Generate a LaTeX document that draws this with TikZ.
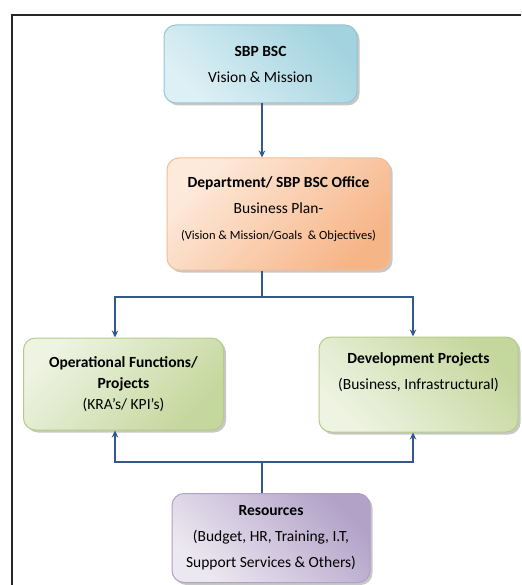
\documentclass[tikz,border=0pt]{standalone}
\usepackage{fontspec}
\setmainfont{Carlito}
\usepackage{tikz}
\usetikzlibrary{arrows.meta,positioning,shadows}

\definecolor{linkblue}{HTML}{35588A}
\definecolor{skyA}{HTML}{DDF0F5}
\definecolor{skyB}{HTML}{A3D3DF}
\definecolor{skyE}{HTML}{93C6D2}
\definecolor{peachA}{HTML}{FDEADB}
\definecolor{peachB}{HTML}{F6B587}
\definecolor{peachE}{HTML}{F0BE98}
\definecolor{leafA}{HTML}{EEF3E2}
\definecolor{leafB}{HTML}{C4D79C}
\definecolor{leafE}{HTML}{B5CB88}
\definecolor{plumA}{HTML}{ECE8F1}
\definecolor{plumB}{HTML}{B2A2C8}
\definecolor{plumE}{HTML}{B0A0C5}

\begin{document}
\begin{tikzpicture}[x=1pt, y=-1pt, >={Stealth[length=7pt,width=6.5pt]},
  every node/.style={font=\fontsize{15.5}{18}\selectfont},
  box/.style={rounded corners=12pt, align=center, line width=1pt, inner sep=0pt,
    drop shadow={shadow xshift=2.5pt, shadow yshift=-2.5pt, fill=black, opacity=0.22}},
  link/.style={->, draw=linkblue, line width=1.4pt}]
  \useasboundingbox (0,0) rectangle (521,585);
  \draw[line width=2.5pt, black!85] (12,585) -- (12,15) -- (521,15);

  \node[box, draw=skyE, top color=skyB, bottom color=skyA, shading angle=-45,
    minimum width=193pt, minimum height=78pt] (vision) at (260.5,64)
    {\textbf{SBP BSC}\\[8pt]Vision \& Mission};
  \node[box, draw=peachE, top color=peachA, bottom color=peachB, shading angle=45,
    minimum width=223pt, minimum height=112pt] (dept) at (278.5,214)
    {\textbf{Department/ SBP BSC Office}\\[8pt]Business Plan-\\[8pt]
    {\fontsize{12.5}{15}\selectfont(Vision \& Mission/Goals\ \ \& Objectives)}\\[-7pt]\mbox{}};
  \node[box, draw=leafE, top color=leafA, bottom color=leafB, shading angle=45,
    minimum width=200pt, minimum height=92pt] (ops) at (123.5,384)
    {\textbf{Operational Functions/}\\[3pt]\textbf{Projects}\\[3pt](KRA's/ KPI's)};
  \node[box, draw=leafE, top color=leafA, bottom color=leafB, shading angle=135,
    minimum width=199pt, minimum height=95pt] (dev) at (418.5,384.5)
    {\textbf{Development Projects}\\[8pt](Business, Infrastructural)\\[8pt]\mbox{}};
  \node[box, draw=plumE, top color=plumB, bottom color=plumA, shading angle=-45,
    minimum width=198pt, minimum height=89pt] (res) at (271,538)
    {\textbf{Resources}\\[8pt](Budget, HR, Training, I.T,\\[8pt]Support Services \& Others)};

  \coordinate (split) at (262,297);
  \coordinate (join) at (262,462);
  \draw[link] (vision.south -| split) -- (dept.north -| split);
  \draw[link, -] (dept.south -| split) -- (split);
  \draw[link] (split) -| ([xshift=-8.5pt]ops.north);
  \draw[link] (split) -| ([xshift=-5.5pt]dev.north);
  \draw[link, -] (res.north -| join) -- (join);
  \draw[link] (join) -| ([xshift=-8.5pt]ops.south);
  \draw[link] (join) -| ([xshift=-5.5pt]dev.south);
\end{tikzpicture}
\end{document}
